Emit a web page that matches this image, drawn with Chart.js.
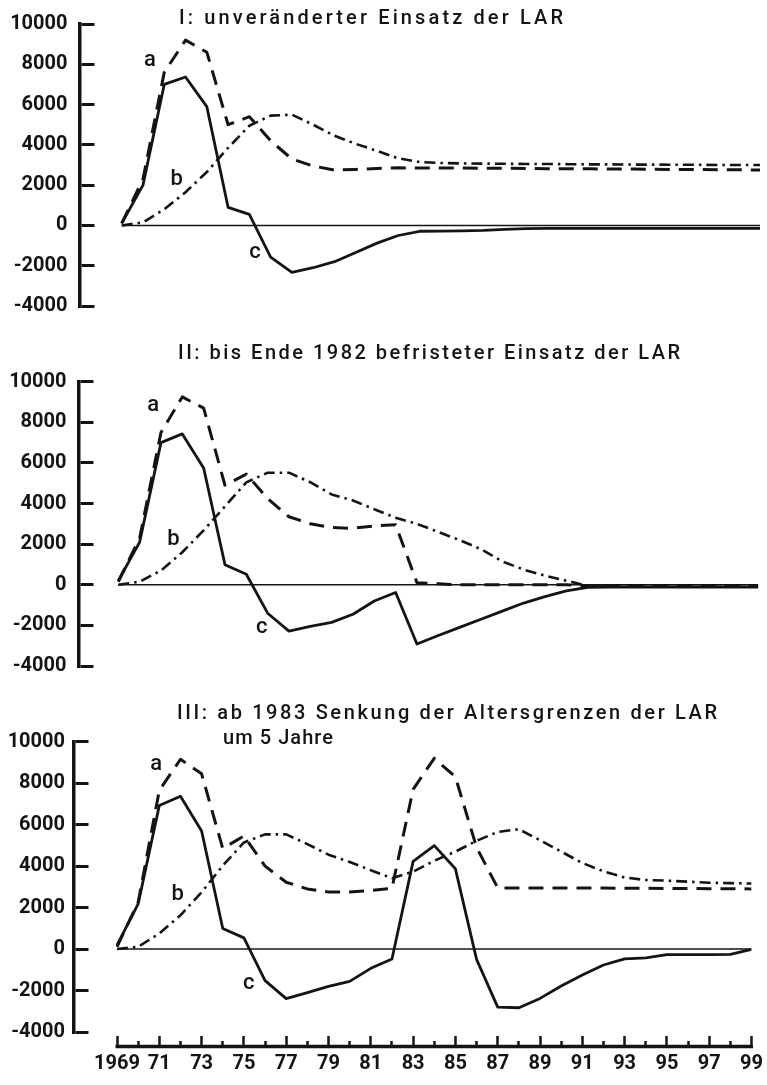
<!DOCTYPE html>
<html>
<head>
<meta charset="utf-8">
<script src="https://cdn.jsdelivr.net/npm/chart.js@4.4.1/dist/chart.umd.min.js"></script>
<style>
  html, body { margin: 0; padding: 0; background: #fff; }
  #page { position: relative; width: 767px; height: 1085px; overflow: hidden; background: #fff; }
  #page canvas { position: absolute; left: 0; }
  .title { position: absolute; z-index: 2; white-space: pre; color: #141414;
           font-family: Roboto, sans-serif; font-size: 20px; font-weight: 500; line-height: 20px; }
</style>
</head>
<body>
<div id="page">
  <canvas id="c1" width="767" height="330" style="top:0px"></canvas>
  <canvas id="c2" width="767" height="360" style="top:330px"></canvas>
  <canvas id="c3" width="767" height="395" style="top:690px"></canvas>
  <div class="title" id="t1" style="left:179px; top:7px;">I: unveränderter Einsatz der LAR</div>
  <div class="title" id="t2" style="left:178px; top:342px;">II: bis Ende 1982 befristeter Einsatz der LAR</div>
  <div class="title" id="t3" style="left:177px; top:702px;">III: ab 1983 Senkung der Altersgrenzen der LAR</div>
  <div class="title" id="t4" style="left:223px; top:727px;">um 5 Jahre</div>
</div>
<script>
// Jahre 1969 .. 1999
var years = [1969, 1970, 1971, 1972, 1973, 1974, 1975, 1976, 1977, 1978,
             1979, 1980, 1981, 1982, 1983, 1984, 1985, 1986, 1987, 1988,
             1989, 1990, 1991, 1992, 1993, 1994, 1995, 1996, 1997, 1998, 1999];

// I: unveränderter Einsatz der LAR
var aI = [100, 2300, 7600, 9200, 8600, 5000, 5400, 4200, 3300, 2950, 2750, 2780, 2830, 2860, 2850,
          2850, 2850, 2840, 2840, 2830, 2820, 2820, 2810, 2800, 2800, 2790, 2780, 2780, 2770, 2760, 2750];
var bI = [0, 150, 800, 1650, 2650, 3850, 4950, 5450, 5500, 5000, 4450, 4050, 3700, 3330, 3150,
          3100, 3080, 3070, 3060, 3050, 3050, 3040, 3030, 3030, 3020, 3020, 3010, 3010, 3000, 3000, 3000];
var cI = [100, 2000, 7000, 7370, 5900, 900, 550, -1570, -2330, -2100, -1800, -1340, -880, -500, -290,
          -280, -270, -250, -200, -160, -150, -150, -150, -150, -150, -150, -150, -150, -150, -150, -150];

// II: bis Ende 1982 befristeter Einsatz der LAR
var aII = [150, 2300, 7500, 9250, 8700, 4900, 5450, 4250, 3350, 3000, 2820, 2780, 2900, 2950,
           100, 50, 0, 0, 0, 0, 0, 0, -60, -60, -60, -60, -60, -60, -60, -60, -60];
var bII = [0, 150, 700, 1600, 2680, 3860, 5040, 5520, 5520, 5050, 4450, 4150, 3720, 3300,
           3000, 2600, 2200, 1750, 1150, 750, 450, 200, -50, -100, -100, -100, -100, -100, -100, -100, -100];
var cII = [200, 2100, 7000, 7430, 5750, 990, 520, -1400, -2280, -2050, -1850, -1450, -800, -380,
           -2920, -2500, -2100, -1700, -1300, -900, -580, -300, -130, -120, -120, -120, -120, -120, -120, -120, -120];

// III: ab 1983 Senkung der Altersgrenzen der LAR um 5 Jahre
var aIII = [110, 2260, 7650, 9150, 8450, 4850, 5450, 4000, 3220, 2900, 2750, 2750, 2820, 2930,
            7700, 9200, 8300, 4900, 2950, 2950, 2950, 2950, 2940, 2940, 2930, 2930, 2920, 2920, 2910, 2910, 2900];
var bIII = [0, 110, 750, 1630, 2740, 4020, 5140, 5530, 5530, 5060, 4550, 4200, 3800, 3420,
            3730, 4260, 4700, 5220, 5650, 5780, 5250, 4700, 4150, 3750, 3450, 3330, 3300, 3250, 3200, 3180, 3160];
var cIII = [190, 2180, 6920, 7370, 5690, 990, 540, -1520, -2390, -2100, -1800, -1560, -930, -480,
            4230, 4990, 3870, -500, -2800, -2830, -2380, -1780, -1250, -770, -470, -430, -270, -270, -270, -260, -20];

// Kurvenbuchstaben: [Text, Jahr, Wert]
var lettersI = [['a', 1970.33, 8190], ['b', 1971.58, 2290], ['c', 1975.26, -1330]];
var lettersII = [['a', 1970.64, 8810], ['b', 1971.58, 2250], ['c', 1975.72, -2100]];
var lettersIII = [['a', 1970.85, 8880], ['b', 1971.87, 2610], ['c', 1975.23, -1650]];

// Achsen
var yTickValues = [-4000, -3000, -2000, -1000, 0, 1000, 2000, 3000, 4000, 5000, 6000, 7000, 8000, 9000, 10000];
var yTickLabels = {'-4000': '-4000', '-2000': '-2000', '0': '0', '2000': '2000', '4000': '4000',
                   '6000': '6000', '8000': '8000', '10000': '10000'};
var xTickYears = [1969, 1971, 1973, 1975, 1977, 1979, 1981, 1983, 1985, 1987, 1989, 1991, 1993, 1995, 1997, 1999];
var xTickLabels = ['1969', '71', '73', '75', '77', '79', '81', '83', '85', '87', '89', '91', '93', '95', '97', '99'];

var ink = '#141414';
Chart.defaults.font.family = 'Roboto, sans-serif';

function toXY(values) {
  return values.map(function(v, i) { return {x: years[i], y: v}; });
}

function makePanel(canvasId, series, letters, lay) {
  var perYear = (lay.x1999 - lay.x1969) / (years[years.length - 1] - years[0]);
  var xMin = years[0] - (lay.x1969 - lay.axisX) / perYear;

  // Buchstaben a, b, c an den Kurven
  var letterPlugin = {
    id: 'curveLetters',
    afterDatasetsDraw: function(chart) {
      var ctx = chart.ctx, sx = chart.scales.x, sy = chart.scales.y;
      ctx.save();
      ctx.fillStyle = ink;
      ctx.font = '500 22px Roboto, sans-serif';
      ctx.textAlign = 'center';
      ctx.textBaseline = 'middle';
      letters.forEach(function(l) {
        ctx.fillText(l[0], sx.getPixelForValue(l[1]), sy.getPixelForValue(l[2]));
      });
      ctx.restore();
    }
  };

  // Grundlinie der Zeitachse (nur unten)
  var baselinePlugin = {
    id: 'xBaseline',
    afterDraw: function(chart) {
      var s = chart.scales.x;
      if (!lay.showX) return;
      var ctx = chart.ctx;
      var y = s.top + s.options.grid.tickLength - 1.5;
      ctx.save();
      ctx.strokeStyle = ink;
      ctx.lineWidth = 3.5;
      ctx.beginPath();
      ctx.moveTo(s.getPixelForValue(years[0]) - 1.5, y);
      ctx.lineTo(s.getPixelForValue(years[years.length - 1]) + 1.5, y);
      ctx.stroke();
      ctx.restore();
    }
  };

  return new Chart(document.getElementById(canvasId), {
    type: 'line',
    data: {
      datasets: [{
        label: 'a',
        data: toXY(series.a),
        borderColor: ink,
        borderWidth: 3,
        borderDash: [15, 9]
      }, {
        label: 'b',
        data: toXY(series.b),
        borderColor: ink,
        borderWidth: 2.6,
        borderDash: [11, 5, 2.5, 5]
      }, {
        label: 'c',
        data: toXY(series.c),
        borderColor: ink,
        borderWidth: 2.8
      }, {
        label: 'Nulllinie',
        data: [{x: years[0], y: 0}, {x: years[years.length - 1], y: 0}],
        borderColor: ink,
        borderWidth: 1.5
      }]
    },
    options: {
      responsive: false,
      animation: false,
      events: [],
      layout: {
        padding: {
          top: lay.yTop,
          bottom: lay.showX ? 0 : lay.height - lay.yBot,
          left: 0,
          right: 767 - lay.x1999
        }
      },
      elements: {
        point: { radius: 0 },
        line: { tension: 0, fill: false, borderJoinStyle: 'round' }
      },
      plugins: {
        legend: { display: false },
        tooltip: { enabled: false }
      },
      scales: {
        x: {
          type: 'linear',
          display: lay.showX,
          min: xMin,
          max: years[years.length - 1],
          afterBuildTicks: function(s) { s.ticks = years.map(function(v) { return {value: v}; }); },
          afterFit: function(s) { if (lay.showX) s.height = lay.height - lay.yBot; },
          border: { display: false },
          grid: {
            drawOnChartArea: false,
            drawTicks: true,
            tickLength: 16,
            tickWidth: 2.5,
            tickColor: ink,
            tickBorderDash: function(c) {
              if (!c.tick) return [];
              return xTickYears.indexOf(c.tick.value) >= 0 ? [0, 4, 12, 60] : [0, 9, 7, 60];
            }
          },
          ticks: {
            autoSkip: false,
            maxRotation: 0,
            padding: 4,
            color: ink,
            font: { size: 20, weight: 'bold' },
            callback: function(v) {
              var i = xTickYears.indexOf(v);
              return i >= 0 ? xTickLabels[i] : '';
            }
          }
        },
        y: {
          min: yTickValues[0],
          max: yTickValues[yTickValues.length - 1],
          afterBuildTicks: function(s) { s.ticks = yTickValues.map(function(v) { return {value: v}; }); },
          afterFit: function(s) { s.width = lay.axisX; },
          border: {
            display: true,
            color: ink,
            width: 3.5,
            dash: function(c) {
              if (!c.tick) return [];
              return yTickLabels[String(c.tick.value)] !== undefined ? [13, 3000] : [8, 3000];
            }
          },
          grid: {
            color: ink,
            lineWidth: 3,
            drawTicks: false,
            drawOnChartArea: true
          },
          ticks: {
            padding: lay.labelGap,
            color: ink,
            font: { size: 20, weight: 'bold' },
            callback: function(v) {
              var t = yTickLabels[String(v)];
              return t === undefined ? '' : t;
            }
          }
        }
      }
    },
    plugins: [letterPlugin, baselinePlugin]
  });
}

// Lage der drei Teilbilder (Pixel innerhalb der jeweiligen Leinwand)
makePanel('c1', {a: aI, b: bI, c: cI}, lettersI,
  {axisX: 79.5, x1969: 121.7, x1999: 760, yTop: 20, yBot: 316.7, height: 330, labelGap: 12, showX: false});
makePanel('c2', {a: aII, b: bII, c: cII}, lettersII,
  {axisX: 78.5, x1969: 118.3, x1999: 758.3, yTop: 51.7, yBot: 346.7, height: 360, labelGap: 12, showX: false});
makePanel('c3', {a: aIII, b: bIII, c: cIII}, lettersIII,
  {axisX: 74, x1969: 117.3, x1999: 756, yTop: 51.7, yBot: 342, height: 395, labelGap: 9, showX: true});

// Überschriften auf die Breite der Vorlage sperren
function fitTitle(id, width) {
  var el = document.getElementById(id);
  el.style.letterSpacing = '0px';
  var w = el.getBoundingClientRect().width;
  var n = el.textContent.length;
  el.style.letterSpacing = ((width - w) / (n - 1)) + 'px';
}
fitTitle('t1', 384);
fitTitle('t2', 502);
fitTitle('t3', 540);
fitTitle('t4', 110);
</script>
</body>
</html>
